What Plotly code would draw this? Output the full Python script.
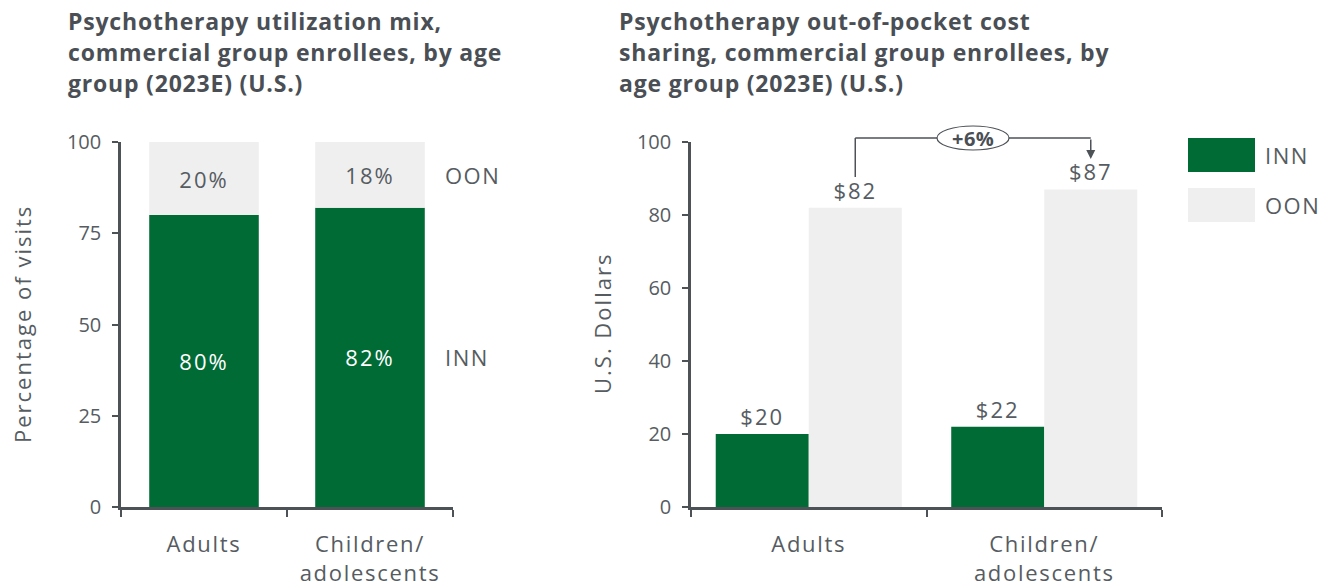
import plotly.graph_objects as go

# ---------------- data ----------------
categories = ["Adults", "Children/<br>adolescents"]
mix_inn = [80, 82]
mix_oon = [20, 18]
cost_inn = [20, 22]
cost_oon = [82, 87]
left_yticks = [0, 25, 50, 75, 100]
right_yticks = [0, 20, 40, 60, 80, 100]
growth_label = "+6%"

# ---------------- style ----------------
W, H = 1332, 588
GREEN = "#006b35"
LIGHT = "#efefef"
TXT = "#565c62"
TITLE = "#4a4f55"
AXIS = "#4d5257"
FONT = "Open Sans"
FS = 22


def sp(t, ls=1.5):
    return f'<span style="letter-spacing:{ls}px">{t}</span>'


def px_x(px):
    return px / W


def px_y(py):
    return 1 - py / H


L_DOM = [px_x(121), px_x(453)]
R_DOM = [px_x(691), px_x(1162)]
Y_DOM = [px_y(507), px_y(142)]

fig = go.Figure()

# Left chart: stacked shares
bw = 0.66
fig.add_trace(go.Bar(
    x=categories, y=mix_inn, width=bw, offset=-bw / 2,
    marker=dict(color=GREEN, line=dict(width=0)),
    text=[sp(f"{v}%", 2) for v in mix_inn], textposition="inside",
    insidetextanchor="middle", textfont=dict(color="white", size=FS, family=FONT),
    xaxis="x", yaxis="y", showlegend=False, hoverinfo="skip"))
fig.add_trace(go.Bar(
    x=categories, y=mix_oon, base=mix_inn, width=bw, offset=-bw / 2,
    marker=dict(color=LIGHT, line=dict(width=0)),
    text=[sp(f"{v}%", 2) for v in mix_oon], textposition="inside",
    insidetextanchor="middle", textfont=dict(color=TXT, size=FS, family=FONT),
    xaxis="x", yaxis="y", showlegend=False, hoverinfo="skip"))

# Right chart: grouped costs
gw = 0.79
hw = gw / 2
fig.add_trace(go.Bar(
    x=categories, y=cost_inn, width=hw, offset=-hw,
    marker=dict(color=GREEN, line=dict(width=0)),
    text=[sp(f"${v}", 2) for v in cost_inn], textposition="outside",
    textfont=dict(color=TXT, size=FS, family=FONT), cliponaxis=False,
    xaxis="x2", yaxis="y2", showlegend=False, hoverinfo="skip"))
fig.add_trace(go.Bar(
    x=categories, y=cost_oon, width=hw, offset=0,
    marker=dict(color=LIGHT, line=dict(width=0)),
    text=[sp(f"${v}", 2) for v in cost_oon], textposition="outside",
    textfont=dict(color=TXT, size=FS, family=FONT), cliponaxis=False,
    xaxis="x2", yaxis="y2", showlegend=False, hoverinfo="skip"))

xcommon = dict(
    type="category", range=[-0.5, 1.5], showgrid=False, zeroline=False,
    showline=True, linecolor=AXIS, linewidth=2.5, automargin=False,
    ticks="outside", tickson="boundaries", ticklen=7, tickwidth=2, tickcolor=AXIS,
    tickmode="array", tickvals=categories,
    ticktext=["<br>".join(sp(p, 1.7) for p in c.split("<br>")) for c in categories],
    tickfont=dict(family=FONT, size=FS, color=TXT), ticklabelstandoff=16,
    fixedrange=True)
ycommon = dict(
    range=[0, 100], showgrid=False, zeroline=False, automargin=False,
    showline=True, linecolor=AXIS, linewidth=2.5,
    ticks="outside", ticklen=6, tickwidth=2, tickcolor=AXIS,
    tickfont=dict(family=FONT, size=20, color=TXT), ticklabelstandoff=7,
    fixedrange=True)

fig.update_layout(
    width=W, height=H, margin=dict(l=0, r=0, t=0, b=0, autoexpand=False),
    paper_bgcolor="white", plot_bgcolor="white",
    barmode="overlay", font=dict(family=FONT, color=TXT, size=FS),
    xaxis=dict(domain=L_DOM, anchor="y", **xcommon),
    yaxis=dict(domain=Y_DOM, anchor="x", tickvals=left_yticks, **ycommon),
    xaxis2=dict(domain=R_DOM, anchor="y2", **xcommon),
    yaxis2=dict(domain=Y_DOM, anchor="x2", tickvals=right_yticks, **ycommon),
)

ann = []
shapes = []

# Axis titles
for txt, xp in [("Percentage of visits", 22), ("U.S. Dollars", 602)]:
    ann.append(dict(text=sp(txt, 2), xref="paper", yref="paper", x=px_x(xp),
                    y=px_y(324), xanchor="center", yanchor="middle", textangle=-90,
                    showarrow=False, font=dict(family=FONT, size=22, color=TXT)))

# Titles (one annotation per line to control spacing)
left_title = ["Psychotherapy utilization mix,",
              "commercial group enrollees, by age",
              "group (2023E) (U.S.)"]
right_title = ["Psychotherapy out-of-pocket cost",
               "sharing, commercial group enrollees, by",
               "age group (2023E) (U.S.)"]
for xs, lines in [(66, left_title), (617, right_title)]:
    for i, line in enumerate(lines):
        ann.append(dict(text=f"<b>{sp(line, 0.8)}</b>", xref="paper", yref="paper",
                        x=px_x(xs), y=px_y(21 + 31 * i), xanchor="left",
                        yanchor="middle", showarrow=False,
                        font=dict(family=FONT, size=23, color=TITLE)))

# Side labels for left chart (aligned with children bar segments)
ann.append(dict(text=sp("OON"), xref="paper", yref="y", x=px_x(443),
                y=mix_inn[1] + mix_oon[1] / 2, xanchor="left", yanchor="middle",
                showarrow=False, font=dict(family=FONT, size=FS, color=TXT)))
ann.append(dict(text=sp("INN"), xref="paper", yref="y", x=px_x(443),
                y=mix_inn[1] / 2, xanchor="left", yanchor="middle",
                showarrow=False, font=dict(family=FONT, size=FS, color=TXT)))

# Legend for right chart
for i, (name, col) in enumerate([("INN", GREEN), ("OON", LIGHT)]):
    y0 = 138 + 50 * i
    shapes.append(dict(type="rect", xref="paper", yref="paper",
                       x0=px_x(1188), x1=px_x(1255), y0=px_y(y0 + 34), y1=px_y(y0),
                       fillcolor=col, line=dict(width=0)))
    ann.append(dict(text=sp(name), xref="paper", yref="paper", x=px_x(1263),
                    y=px_y(y0 + 17), xanchor="left", yanchor="middle",
                    showarrow=False, font=dict(family=FONT, size=FS, color=TXT)))

# Growth bracket between OON bars
oon_pos = [i + hw / 2 for i in range(len(categories))]
y_top = px_y(138)
shapes.append(dict(type="line", xref="x2", yref="paper",
                   x0=oon_pos[0], x1=oon_pos[0], y0=px_y(177), y1=y_top,
                   line=dict(color=AXIS, width=1.5)))
shapes.append(dict(type="line", xref="x2", yref="paper",
                   x0=oon_pos[0], x1=oon_pos[1], y0=y_top, y1=y_top,
                   line=dict(color=AXIS, width=1.5)))
ann.append(dict(text="", xref="x2", yref="paper", x=oon_pos[1], y=px_y(159),
                ax=0, ay=-21, axref="pixel", ayref="pixel",
                showarrow=True, arrowhead=2, arrowsize=1.2, arrowwidth=1.5,
                arrowcolor=AXIS, standoff=0))
mid = (oon_pos[0] + oon_pos[1]) / 2
shapes.append(dict(type="circle", xref="x2", yref="paper", xsizemode="pixel",
                   xanchor=mid, x0=-36, x1=36, y0=px_y(150), y1=px_y(126),
                   fillcolor="white", line=dict(color=AXIS, width=1.2)))
ann.append(dict(text=f"<b>{sp(growth_label, 0.5)}</b>", xref="x2", yref="paper",
                x=mid, y=y_top, xanchor="center", yanchor="middle", showarrow=False,
                font=dict(family=FONT, size=20, color=TITLE)))

fig.update_layout(annotations=ann, shapes=shapes)
fig.write_html("out.html", config={"displayModeBar": False},
               post_script="document.body.style.margin='0';"
                           "document.documentElement.style.overflow='hidden';")
